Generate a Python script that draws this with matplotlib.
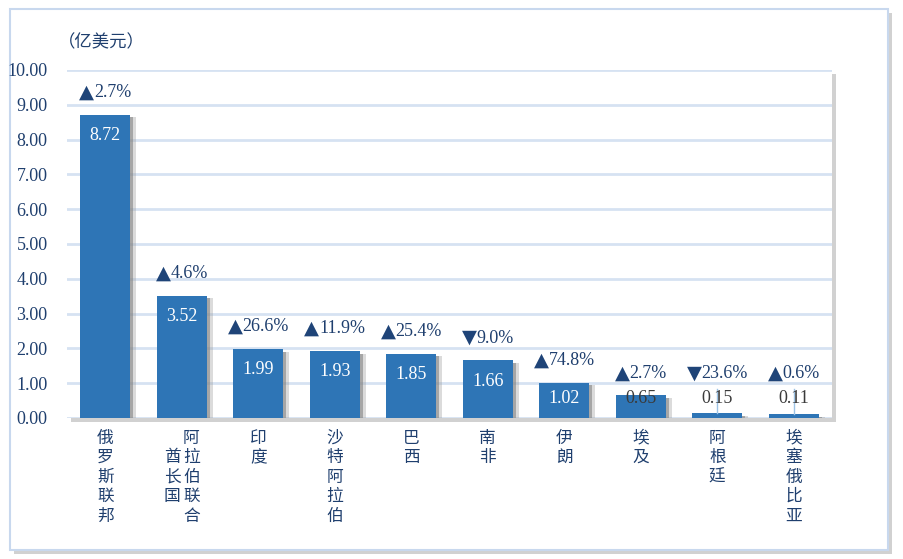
import matplotlib
matplotlib.use("Agg")
import matplotlib.pyplot as plt
import matplotlib.patheffects as pe
import matplotlib.transforms as mtransforms
from matplotlib.patches import Rectangle

# data
countries = [["俄罗斯联邦"], ["阿拉伯联合", "酋长国"], ["印度"], ["沙特阿拉伯"], ["巴西"],
             ["南非"], ["伊朗"], ["埃及"], ["阿根廷"], ["埃塞俄比亚"]]
values = [8.72, 3.52, 1.99, 1.93, 1.85, 1.66, 1.02, 0.65, 0.15, 0.11]
growth = [2.7, 4.6, 26.6, 11.9, 25.4, -9.0, 74.8, 2.7, -23.6, 0.6]
yticks = [0, 1, 2, 3, 4, 5, 6, 7, 8, 9, 10]
unit_label = "（亿美元）"

W, H = 904, 559
bar_color = "#2E75B6"
navy = "#1F3F6E"
tri_color = "#1F4478"
grid_color = "#D6E2F2"
num_font = ["Liberation Serif", "DejaVu Serif"]
cjk_font = ["Noto Sans CJK SC", "DejaVu Sans"]

fig = plt.figure(figsize=(W / 100, H / 100), dpi=100)

shadow = [pe.SimplePatchShadow(offset=(3, -3), shadow_rgbFace="#999999", alpha=0.45), pe.Normal()]

# outer frame
frame = Rectangle((10 / W, 1 - 550 / H), 878 / W, 541 / H, transform=fig.transFigure,
                  facecolor="white", edgecolor="#C8D8EE", lw=1.5, zorder=0)
frame.set_path_effects(shadow)
fig.patches.append(frame)

# plot area background with shadow
left, right, top, bottom = 67, 832, 70, 418
plot_bg = Rectangle((left / W, 1 - bottom / H), (right - left) / W, (bottom - top) / H,
                    transform=fig.transFigure, facecolor="white", edgecolor="none", zorder=0.5)
plot_bg.set_path_effects(shadow)
fig.patches.append(plot_bg)

ax = fig.add_axes([left / W, 1 - bottom / H, (right - left) / W, (bottom - top) / H])
ax.set_zorder(2)
ax.patch.set_alpha(0)

x = list(range(len(values)))
bars = ax.bar(x, values, width=0.66, color=bar_color, zorder=3)
for b in bars:
    b.set_path_effects([pe.SimplePatchShadow(offset=(2, -2), shadow_rgbFace="#777777", alpha=0.6),
                        pe.SimplePatchShadow(offset=(4, -2), shadow_rgbFace="#999999", alpha=0.35),
                        pe.Normal()])

ax.set_xlim(-0.5, len(values) - 0.5)
ax.set_ylim(0, 10)
ax.set_yticks(yticks)
ax.set_yticklabels(["%.2f" % t for t in yticks], fontfamily=num_font, fontsize=13, color=navy)
ax.set_xticks([])
ax.tick_params(axis="y", length=0, pad=14)
for s in ax.spines.values():
    s.set_visible(False)
for t in yticks:
    ax.axhline(t, color=grid_color, lw=2, zorder=1)

renderer = fig.canvas.get_renderer()
for i, v in enumerate(values):
    # value label
    ly = max(v - 0.6, 0.55)
    col = "white" if v > 1 else "#3A3A3A"
    ax.text(i, ly, "%.2f" % v, ha="center", va="center", fontsize=13,
            fontfamily=num_font, color=col, zorder=5)
    if v < 0.5:
        ax.plot([i, i], [v, 0.82], color="#9DC3E6", lw=1, zorder=4)
    # growth label: big triangle + number
    g = growth[i]
    sym = "▲" if g >= 0 else "▼"
    py = max(v, 0.65) + 0.63
    num = ax.text(i, py, "%.1f%%" % abs(g), ha="left", va="center", fontsize=13,
                  fontfamily=num_font, color=navy, zorder=5)
    tri = ax.text(i, py + 0.02, sym, ha="right", va="center", fontsize=14,
                  fontfamily=["DejaVu Sans"], color=tri_color, zorder=5)
    wn = num.get_window_extent(renderer).width
    wt = tri.get_window_extent(renderer).width
    shift = (wt - wn) / 2 / 100 * 72  # points
    for t in (num, tri):
        t.set_transform(ax.transData + mtransforms.ScaledTranslation(shift / 72, 0, fig.dpi_scale_trans))
    # category labels (vertical)
    cols = countries[i]
    n_rows = max(len(c) for c in cols)
    char_h = 0.56
    col_w = 0.25
    for k, c in enumerate(cols):
        cx = i + (len(cols) - 1) * col_w / 2 - k * col_w
        start = (n_rows - len(c)) / 2
        for r, ch in enumerate(c):
            ax.text(cx, -0.58 - (start + r) * char_h, ch, ha="center", va="center",
                    fontsize=12, fontfamily=cjk_font, color=navy, clip_on=False)

fig.text(58 / W, 1 - 42 / H, unit_label, fontsize=12.5, fontfamily=cjk_font, color=navy,
         ha="left", va="center")

fig.savefig("out.png", dpi=100)
